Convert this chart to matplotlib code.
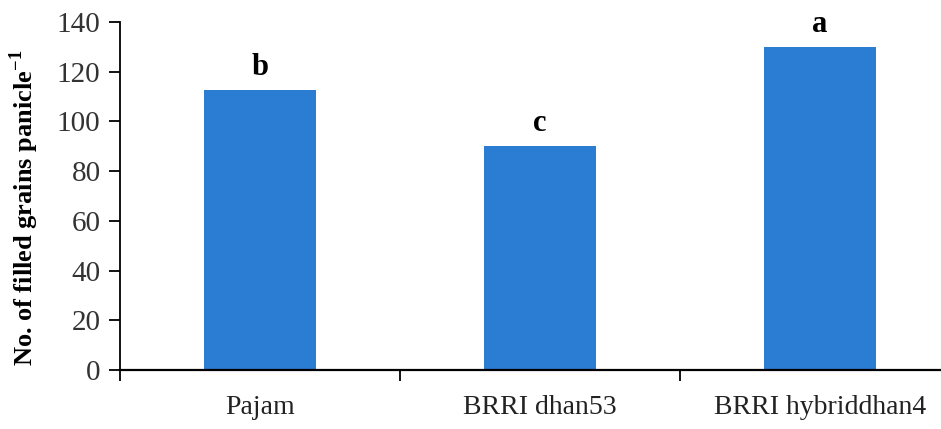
import matplotlib.pyplot as plt
import numpy as np

# Filled grains per panicle by variety
varieties = ["Pajam", "BRRI dhan53", "BRRI hybriddhan4"]
filled_grains = [112.5, 90, 130]
letters = ["b", "c", "a"]
y_ticks = [0, 20, 40, 60, 80, 100, 120, 140]

plt.rcParams['font.family'] = ['Liberation Serif', 'DejaVu Serif']

fig = plt.figure(figsize=(9.41, 4.29), dpi=100)
# axes run slightly past the right edge of the figure
ax = fig.add_axes([120 / 941, 1 - 370 / 429, 840 / 941, 348 / 429])

x = np.arange(len(varieties))
ax.bar(x, filled_grains, width=0.4, color='#2B7CD3', zorder=2)

for xi, val, let in zip(x, filled_grains, letters):
    ax.text(xi, val + 9, let, ha='center', va='center',
            fontsize=22, fontweight='bold')

ax.set_xlim(-0.5, 2.5)
ax.set_ylim(0, 140)
ax.set_yticks(y_ticks)
ax.set_yticklabels([str(t) for t in y_ticks], fontsize=21, color='#333333')

# category ticks sit between the bars
ax.set_xticks([-0.5, 0.5, 1.5])
ax.set_xticklabels([])
ax.tick_params(axis='x', direction='out', length=8, width=1.3)
ax.tick_params(axis='y', direction='out', length=8, width=1.3, pad=6)
for xi, name in zip(x, varieties):
    ax.text(xi, -0.108, name, transform=ax.get_xaxis_transform(),
            ha='center', va='center', fontsize=20, color='#222222')

ax.spines['top'].set_visible(False)
ax.spines['right'].set_visible(False)
ax.spines['left'].set_linewidth(1.3)
ax.spines['bottom'].set_linewidth(1.6)

ax.set_ylabel('No. of filled grains panicle$^{\\mathregular{-1}}$', fontsize=19,
              fontweight='bold', va='center')
ax.yaxis.set_label_coords(-0.114, 0.465)

fig.savefig('out.png', dpi=100)
